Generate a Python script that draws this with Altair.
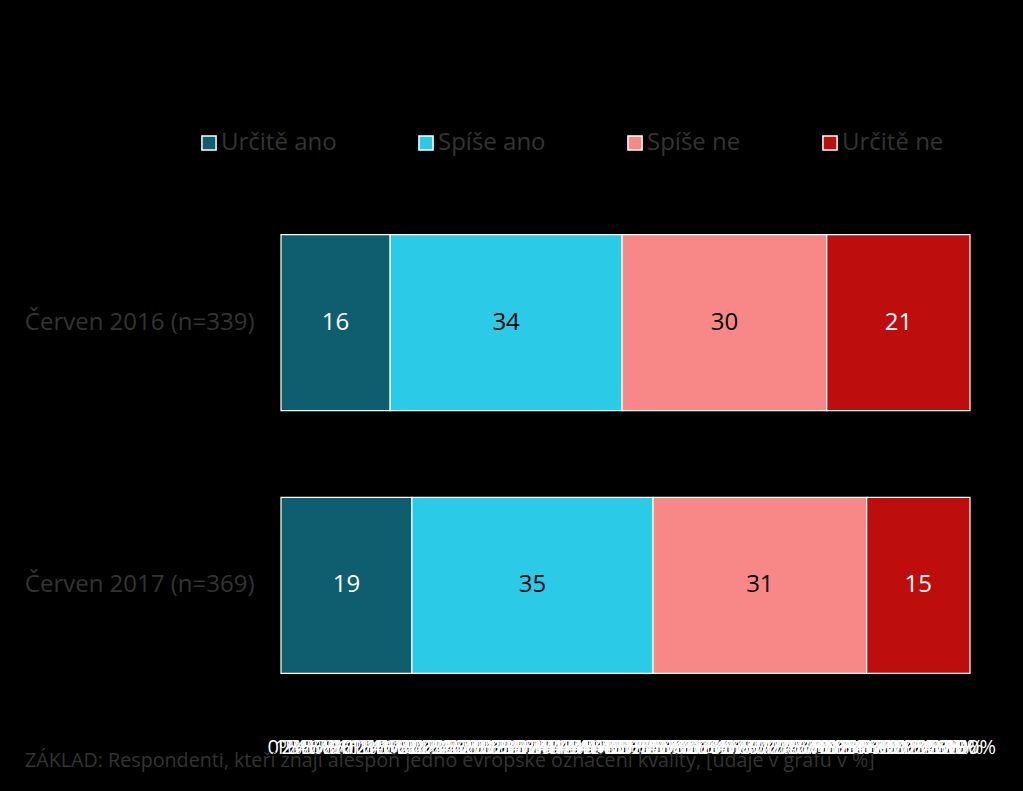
import altair as alt
import pandas as pd

periods = ["Červen 2016 (n=339)", "Červen 2017 (n=369)"]
categories = ["Určitě ano", "Spíše ano", "Spíše ne", "Určitě ne"]
values_2016 = [16, 34, 30, 21]
values_2017 = [19, 35, 31, 15]
colors = ["#0E5E6F", "#2BCBE8", "#F88888", "#BE0D0D"]
tick_values = [i / 100 for i in range(101)]
footnote = "ZÁKLAD: Respondenti, kteří znají alespoň jedno evropské označení kvality, [údaje v grafu v %]"

rows = []
for p, vals in zip(periods, [values_2016, values_2017]):
    for i, (c, v) in enumerate(zip(categories, vals)):
        rows.append({"period": p, "cat": c, "val": v, "ord": i})
df = pd.DataFrame(rows)

FONT = "Open Sans"

base = alt.Chart(df).transform_stack(
    stack="val", groupby=["period"], sort=[alt.SortField("ord")],
    offset="normalize", as_=["x0", "x1"]
).transform_calculate(mid="(datum.x0 + datum.x1) / 2")

y_axis = alt.Axis(labelFontSize=24, labelColor="#333333", labelFont=FONT,
                  ticks=False, tickSize=0, domain=False, labelPadding=27,
                  labelLimit=400)
y_scale = alt.Scale(paddingInner=0.33, paddingOuter=0.17)
x_axis = alt.Axis(values=tick_values, format=".0%", labelColor="white",
                  labelFontSize=20, labelFont=FONT, labelOverlap=False,
                  ticks=False, tickSize=0, domain=False, grid=False,
                  labelPadding=19, labelFlush=False)
x_scale = alt.Scale(domain=[0, 1], nice=False)

bars = base.mark_bar(stroke="white", strokeWidth=1.2).encode(
    x=alt.X("x0:Q", title=None, scale=x_scale, axis=x_axis),
    x2="x1:Q",
    y=alt.Y("period:N", sort=periods, title=None, scale=y_scale, axis=y_axis),
    color=alt.Color("cat:N", sort=categories,
                    scale=alt.Scale(domain=categories, range=colors),
                    legend=alt.Legend(title=None, orient="none", legendX=-84, legendY=-59,
                                      direction="horizontal", columns=4, columnPadding=77,
                                      symbolType="square", symbolSize=200,
                                      symbolStrokeColor="white", symbolStrokeWidth=1.5,
                                      labelFontSize=24, labelColor="#333333", labelFont=FONT,
                                      labelOffset=0)),
)

labels = base.mark_text(fontSize=24, font=FONT).encode(
    x=alt.X("mid:Q", title=None, scale=x_scale, axis=x_axis),
    y=alt.Y("period:N", sort=periods, title=None, scale=y_scale, axis=y_axis),
    text=alt.Text("val:Q"),
    color=alt.condition("datum.cat == 'Spíše ano' || datum.cat == 'Spíše ne'",
                        alt.value("black"), alt.value("white")),
)

note = alt.Chart(pd.DataFrame({"t": [footnote]})).mark_text(
    align="left", baseline="alphabetic", fontSize=19.7, font=FONT, color="#333333"
).encode(x=alt.value(-256), y=alt.value(577), text="t:N")

chart = alt.layer(bars, labels, note).properties(
    width=689, height=528, background="black",
    autosize=alt.AutoSizeParams(type="none"),
    padding={"left": 281, "top": 190, "right": 53, "bottom": 73},
).configure_view(stroke=None).configure_axisX(labelOverlap=False)

chart.save("out.html", embed_options={"renderer": "svg", "actions": False})
